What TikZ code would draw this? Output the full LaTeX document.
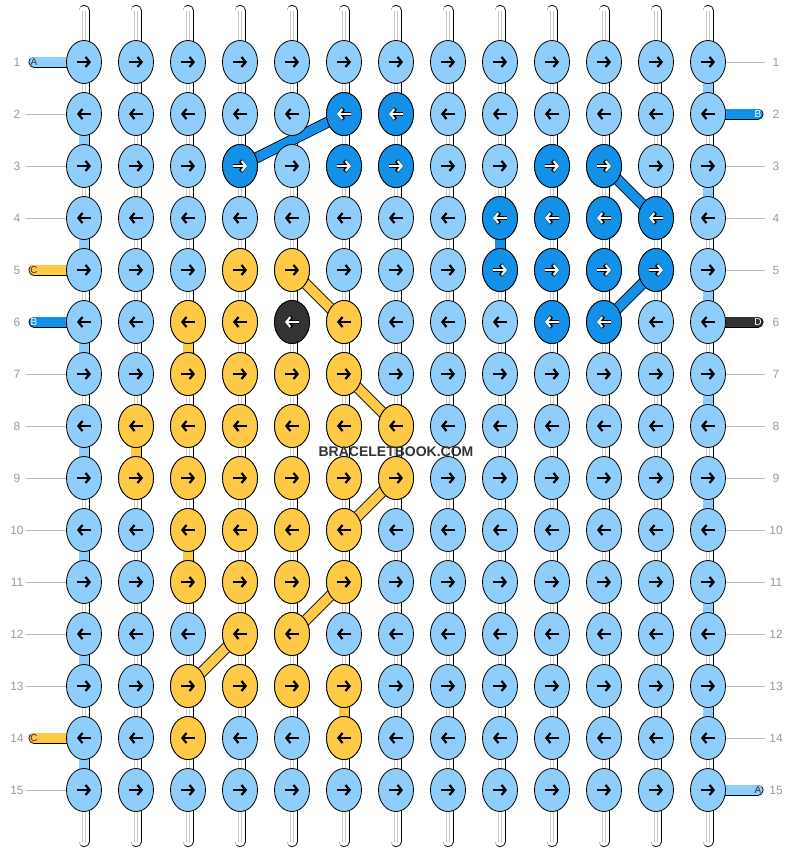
\documentclass[tikz,border=0pt]{standalone}
\usepackage{fontspec}
\setmainfont{Liberation Sans}
\usetikzlibrary{shapes.geometric, arrows.meta, positioning, backgrounds}

\definecolor{ltblue}{HTML}{8FCEFA}
\definecolor{dkblue}{HTML}{1390E8}
\definecolor{yel}{HTML}{FFCB46}
\definecolor{blk}{HTML}{333333}
\definecolor{numgray}{HTML}{999999}
\definecolor{linegray}{HTML}{BBBBBB}
\definecolor{warpgray}{HTML}{C8C8C8}

\pgfdeclarelayer{warps}
\pgfdeclarelayer{bands}
\pgfsetlayers{warps,bands,main}

\begin{document}
\begin{tikzpicture}[
    x=1pt, y=-1pt,
    knot/.style={ellipse, draw=black, line width=0.8pt, fill=ltblue, minimum width=35pt, minimum height=43pt, inner sep=0pt},
    band/.style={draw=#1, line width=9.4pt, line cap=round, preaction={draw=black, line width=11pt, line cap=round}},
    warpedge/.style={draw=black, line width=11pt, line cap=round},
    warpfill/.style={draw=white, line width=9.4pt, line cap=round},
    warpcore/.style={draw=warpgray, line width=0.6pt},
    numline/.style={draw=linegray, line width=0.8pt},
    rownum/.style={font=\fontsize{12}{12}\selectfont, text=numgray, inner sep=0pt},
    tailtxt/.style={font=\fontsize{10}{10}\selectfont, inner sep=0pt},
    arr/.style={draw=black, line width=2.3pt, -{Straight Barb[length=4pt, width=10pt]}},
    arrout/.style={draw=black, line width=3.9pt, -{Straight Barb[length=4pt, width=11pt]}},
    arrwhite/.style={draw=white, line width=2.1pt, -{Straight Barb[length=4pt, width=10pt]}}
]
\useasboundingbox (0,0) rectangle (792,852);

% Knots
\foreach \r in {1,...,15}
  \foreach \c in {1,...,13}
    \node[knot] (k-\r-\c) at ({84+52*(\c-1)}, {62+52*(\r-1)}) {};

% Dark blue knots
\foreach \r/\c in {2/6, 2/7, 3/4, 3/6, 3/7, 3/10, 3/11, 4/9, 4/10, 4/11, 4/12,
                   5/9, 5/10, 5/11, 5/12, 6/10, 6/11}
  \node[knot, fill=dkblue] (k-\r-\c) at ({84+52*(\c-1)}, {62+52*(\r-1)}) {};

% Yellow knots
\foreach \r/\c in {5/4, 5/5, 6/3, 6/4, 6/6, 7/3, 7/4, 7/5, 7/6,
                   8/2, 8/3, 8/4, 8/5, 8/6, 8/7, 9/2, 9/3, 9/4, 9/5, 9/6, 9/7,
                   10/3, 10/4, 10/5, 10/6, 11/3, 11/4, 11/5, 11/6, 12/4, 12/5,
                   13/3, 13/4, 13/5, 13/6, 14/3, 14/6}
  \node[knot, fill=yel] (k-\r-\c) at ({84+52*(\c-1)}, {62+52*(\r-1)}) {};

% Black knot
\node[knot, fill=blk] (k-6-5) at (292, 322) {};

% Arrows
\foreach \r in {1,...,15}{
  \ifodd\r \def\xa{-7}\def\xb{7}\else \def\xa{7}\def\xb{-7}\fi
  \foreach \c in {1,...,13}
    \draw[arr] ([xshift=\xa pt]k-\r-\c.center) -- ([xshift=\xb pt]k-\r-\c.center);
}
\foreach \r/\c in {2/6, 2/7, 3/4, 3/6, 3/7, 3/10, 3/11, 4/9, 4/10, 4/11, 4/12,
                   5/9, 5/10, 5/11, 5/12, 6/10, 6/11, 6/5}{
  \ifodd\r \def\xa{-7}\def\xb{7}\else \def\xa{7}\def\xb{-7}\fi
  \draw[arrout] ([xshift=\xa pt]k-\r-\c.center) -- ([xshift=\xb pt]k-\r-\c.center);
  \draw[arrwhite] ([xshift=\xa pt]k-\r-\c.center) -- ([xshift=\xb pt]k-\r-\c.center);
}

% Row numbers
\foreach \r in {1,...,15}{
  \node[rownum] (nl-\r) at (17, {62+52*(\r-1)}) {\r};
  \node[rownum] (nr-\r) at (776, {62+52*(\r-1)}) {\r};
  \coordinate (ll-\r) at (26, {62+52*(\r-1)});
  \coordinate (lr-\r) at (765, {62+52*(\r-1)});
}

% Tail letters
\node[tailtxt, text=blk] (tl-1) at (34, 62) {A};
\node[tailtxt, text=blk] (tl-5) at (34, 270) {C};
\node[tailtxt, text=white] (tl-6) at (34, 322) {B};
\node[tailtxt, text=blk] (tl-14) at (34, 738) {C};
\node[tailtxt, text=white] (tr-2) at (758, 114) {B};
\node[tailtxt, text=white] (tr-6) at (758, 322) {D};
\node[tailtxt, text=blk] (tr-15) at (758, 790) {A};

% Watermark
\node[font=\bfseries\fontsize{14}{14}\selectfont, text=blk] (wm) at (396, 452) {BRACELETBOOK.COM};

% Warp threads
\begin{pgfonlayer}{warps}
\foreach \c in {1,...,13}{
  \coordinate (top-\c) at ({84+52*(\c-1)}, 10.5);
  \coordinate (bot-\c) at ({84+52*(\c-1)}, 841.5);
  \draw[warpedge] (top-\c) -- (bot-\c);
  \draw[warpfill] (top-\c) -- (bot-\c);
  \draw[warpcore] ([xshift=-1.4pt]top-\c) -- ([xshift=-1.4pt]bot-\c);
  \draw[warpcore] ([xshift=1.4pt]top-\c) -- ([xshift=1.4pt]bot-\c);
}
\foreach \r in {2,3,4,7,8,9,10,11,12,13,15}
  \draw[numline] (ll-\r) -- (k-\r-1.center);
\foreach \r in {1,3,4,5,7,8,9,10,11,12,13,14}
  \draw[numline] (k-\r-13.center) -- (lr-\r);
\end{pgfonlayer}

% Weft bands and turns
\begin{pgfonlayer}{bands}
\foreach \r in {1,...,15}
  \foreach \c [evaluate=\c as \n using int(\c+1)] in {1,...,12}
    \draw[band=ltblue] (k-\r-\c.center) -- (k-\r-\n.center);
\foreach \r [evaluate=\r as \n using int(\r+1)] in {2,4,...,14}
  \draw[band=ltblue] (k-\r-1.center) -- (k-\n-1.center);
\foreach \r [evaluate=\r as \n using int(\r+1)] in {1,3,...,13}
  \draw[band=ltblue] (k-\r-13.center) -- (k-\n-13.center);
\foreach \r/\c [evaluate=\r as \n using int(\r+1)] in {6/3, 8/2, 10/3, 13/6}
  \draw[band=yel] (k-\r-\c.center) -- (k-\n-\c.center);
\draw[band=dkblue] (k-4-9.center) -- (k-5-9.center);

% Diagonals
\draw[band=dkblue] (k-3-4.center) -- (k-2-6.center);
\draw[band=dkblue] (k-3-11.center) -- (k-4-12.center);
\draw[band=dkblue] (k-5-12.center) -- (k-6-11.center);
\draw[band=yel] (k-5-5.center) -- (k-6-6.center);
\draw[band=yel] (k-7-6.center) -- (k-8-7.center);
\draw[band=yel] (k-9-7.center) -- (k-10-6.center);
\draw[band=yel] (k-11-6.center) -- (k-12-5.center);
\draw[band=yel] (k-12-4.center) -- (k-13-3.center);

% Tails
\draw[band=ltblue] (tl-1.center) -- (k-1-1.center);
\draw[band=yel] (tl-5.center) -- (k-5-1.center);
\draw[band=dkblue] (tl-6.center) -- (k-6-1.center);
\draw[band=yel] (tl-14.center) -- (k-14-1.center);
\draw[band=dkblue] (k-2-13.center) -- (tr-2.center);
\draw[band=blk] (k-6-13.center) -- (tr-6.center);
\draw[band=ltblue] (k-15-13.center) -- (tr-15.center);
\end{pgfonlayer}

\end{tikzpicture}
\end{document}
